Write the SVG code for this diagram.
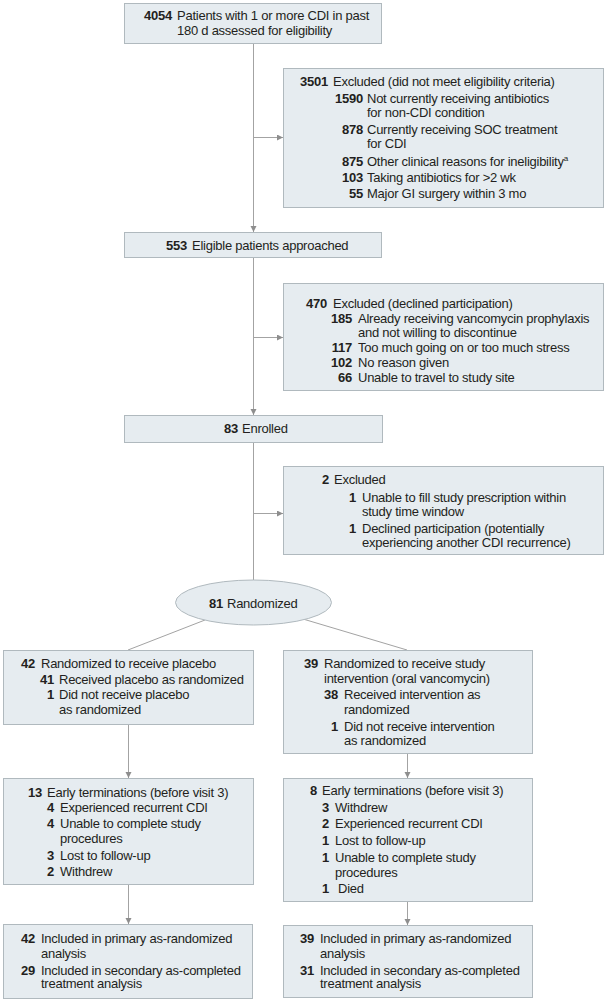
<svg xmlns="http://www.w3.org/2000/svg" width="606" height="1000" viewBox="0 0 606 1000">
<style>
.box{fill:#e6ecf0;stroke:#b0b9be;stroke-width:1}
.t{font-family:"Liberation Sans",Arial,sans-serif;font-size:13px;letter-spacing:-0.25px;fill:#231f20}
.n{font-weight:bold;text-anchor:end}
.ln{stroke:#a3a3a3;stroke-width:1;fill:none}
.arr{marker-end:url(#ah)}
</style>
<defs>
<marker id="ah" markerUnits="userSpaceOnUse" markerWidth="7" markerHeight="7" refX="6" refY="3" orient="auto">
<path d="M0,0 L6,3 L0,6 z" fill="#8e8e8e"/>
</marker>
</defs>
<rect width="606" height="1000" fill="#ffffff"/>

<g id="connectors">
<line class="ln arr" x1="253.5" y1="43" x2="253.5" y2="232"/>
<line class="ln arr" x1="253.5" y1="137.5" x2="283" y2="137.5"/>
<line class="ln arr" x1="253.5" y1="257" x2="253.5" y2="415"/>
<line class="ln arr" x1="253.5" y1="337.5" x2="283" y2="337.5"/>
<line class="ln" x1="253.5" y1="442" x2="253.5" y2="580"/>
<line class="ln arr" x1="253.5" y1="513.5" x2="283" y2="513.5"/>
<line class="ln" x1="205" y1="620" x2="128" y2="650"/>
<line class="ln" x1="303" y1="619" x2="407" y2="650"/>
<line class="ln arr" x1="128.5" y1="724" x2="128.5" y2="778"/>
<line class="ln arr" x1="407.5" y1="753" x2="407.5" y2="778"/>
<line class="ln arr" x1="128.5" y1="884" x2="128.5" y2="924"/>
<line class="ln arr" x1="407.5" y1="901" x2="407.5" y2="925"/>
</g>

<g id="assessed">
<rect class="box" x="124.5" y="3.5" width="257" height="40"/>
<text class="t n" x="172" y="20">4054</text>
<text class="t" x="177" y="20">Patients with 1 or more CDI in past</text>
<text class="t" x="177" y="35">180 d assessed for eligibility</text>
</g>

<g id="excluded1">
<rect class="box" x="283.5" y="68.5" width="320" height="139"/>
<text class="t n" x="328" y="86">3501</text>
<text class="t" x="333" y="86">Excluded (did not meet eligibility criteria)</text>
<text class="t n" x="363" y="103">1590</text>
<text class="t" x="367" y="103">Not currently receiving antibiotics</text>
<text class="t" x="367" y="117">for non-CDI condition</text>
<text class="t n" x="363" y="134">878</text>
<text class="t" x="367" y="134">Currently receiving SOC treatment</text>
<text class="t" x="367" y="148">for CDI</text>
<text class="t n" x="363" y="166">875</text>
<text class="t" x="367" y="166">Other clinical reasons for ineligibility<tspan font-size="8" dy="-5">a</tspan></text>
<text class="t n" x="363" y="182">103</text>
<text class="t" x="367" y="182">Taking antibiotics for &gt;2 wk</text>
<text class="t n" x="363" y="198">55</text>
<text class="t" x="367" y="198">Major GI surgery within 3 mo</text>
</g>

<g id="eligible">
<rect class="box" x="124.5" y="232.5" width="257" height="25"/>
<text class="t n" x="187" y="250">553</text>
<text class="t" x="192" y="250">Eligible patients approached</text>
</g>

<g id="excluded2">
<rect class="box" x="283.5" y="283.5" width="320" height="107"/>
<text class="t n" x="327" y="308">470</text>
<text class="t" x="333" y="308">Excluded (declined participation)</text>
<text class="t n" x="352" y="323">185</text>
<text class="t" x="358" y="323">Already receiving vancomycin prophylaxis</text>
<text class="t" x="358" y="337">and not willing to discontinue</text>
<text class="t n" x="352" y="352">117</text>
<text class="t" x="358" y="352">Too much going on or too much stress</text>
<text class="t n" x="352" y="367">102</text>
<text class="t" x="358" y="367">No reason given</text>
<text class="t n" x="352" y="382">66</text>
<text class="t" x="358" y="382">Unable to travel to study site</text>
</g>

<g id="enrolled">
<rect class="box" x="124.5" y="415.5" width="258" height="27"/>
<text class="t n" x="238" y="433">83</text>
<text class="t" x="242" y="433">Enrolled</text>
</g>

<g id="excluded3">
<rect class="box" x="283.5" y="466.5" width="320" height="88"/>
<text class="t n" x="329" y="484">2</text>
<text class="t" x="334" y="484">Excluded</text>
<text class="t n" x="356" y="502">1</text>
<text class="t" x="362" y="502">Unable to fill study prescription within</text>
<text class="t" x="362" y="516">study time window</text>
<text class="t n" x="356" y="533">1</text>
<text class="t" x="362" y="533">Declined participation (potentially</text>
<text class="t" x="362" y="547">experiencing another CDI recurrence)</text>
</g>

<g id="randomized">
<ellipse class="box" cx="253.5" cy="602.5" rx="78" ry="22.5"/>
<text class="t n" x="223" y="608">81</text>
<text class="t" x="227" y="608">Randomized</text>
</g>

<g id="placebo">
<rect class="box" x="3.5" y="650.5" width="250" height="74"/>
<text class="t n" x="35" y="668">42</text>
<text class="t" x="41" y="668">Randomized to receive placebo</text>
<text class="t n" x="54" y="684">41</text>
<text class="t" x="59" y="684">Received placebo as randomized</text>
<text class="t n" x="54" y="699">1</text>
<text class="t" x="59" y="699">Did not receive placebo</text>
<text class="t" x="59" y="714">as randomized</text>
</g>

<g id="intervention">
<rect class="box" x="283.5" y="650.5" width="249" height="103"/>
<text class="t n" x="318" y="668">39</text>
<text class="t" x="324" y="668">Randomized to receive study</text>
<text class="t" x="324" y="683">intervention (oral vancomycin)</text>
<text class="t n" x="338" y="699">38</text>
<text class="t" x="344" y="699">Received intervention as</text>
<text class="t" x="344" y="714">randomized</text>
<text class="t n" x="338" y="731">1</text>
<text class="t" x="344" y="731">Did not receive intervention</text>
<text class="t" x="344" y="745">as randomized</text>
</g>

<g id="early-placebo">
<rect class="box" x="3.5" y="778.5" width="250" height="106"/>
<text class="t n" x="42" y="797">13</text>
<text class="t" x="47" y="797">Early terminations (before visit 3)</text>
<text class="t n" x="54" y="812">4</text>
<text class="t" x="60" y="812">Experienced recurrent CDI</text>
<text class="t n" x="54" y="828">4</text>
<text class="t" x="60" y="828">Unable to complete study</text>
<text class="t" x="60" y="843">procedures</text>
<text class="t n" x="54" y="860">3</text>
<text class="t" x="60" y="860">Lost to follow-up</text>
<text class="t n" x="54" y="876">2</text>
<text class="t" x="60" y="876">Withdrew</text>
</g>

<g id="early-intervention">
<rect class="box" x="283.5" y="778.5" width="249" height="123"/>
<text class="t n" x="317" y="795">8</text>
<text class="t" x="322" y="795">Early terminations (before visit 3)</text>
<text class="t n" x="329" y="812">3</text>
<text class="t" x="335" y="812">Withdrew</text>
<text class="t n" x="329" y="828">2</text>
<text class="t" x="335" y="828">Experienced recurrent CDI</text>
<text class="t n" x="329" y="845">1</text>
<text class="t" x="335" y="845">Lost to follow-up</text>
<text class="t n" x="329" y="862">1</text>
<text class="t" x="335" y="862">Unable to complete study</text>
<text class="t" x="335" y="877">procedures</text>
<text class="t n" x="329" y="893">1</text>
<text class="t" x="338" y="893">Died</text>
</g>

<g id="analysis-placebo">
<rect class="box" x="3.5" y="924.5" width="249" height="74"/>
<text class="t n" x="35" y="943">42</text>
<text class="t" x="41" y="943">Included in primary as-randomized</text>
<text class="t" x="41" y="958">analysis</text>
<text class="t n" x="35" y="975">29</text>
<text class="t" x="41" y="975">Included in secondary as-completed</text>
<text class="t" x="41" y="988">treatment analysis</text>
</g>

<g id="analysis-intervention">
<rect class="box" x="283.5" y="925.5" width="249" height="72"/>
<text class="t n" x="314" y="943">39</text>
<text class="t" x="320" y="943">Included in primary as-randomized</text>
<text class="t" x="320" y="958">analysis</text>
<text class="t n" x="314" y="975">31</text>
<text class="t" x="320" y="975">Included in secondary as-completed</text>
<text class="t" x="320" y="988">treatment analysis</text>
</g>
</svg>
